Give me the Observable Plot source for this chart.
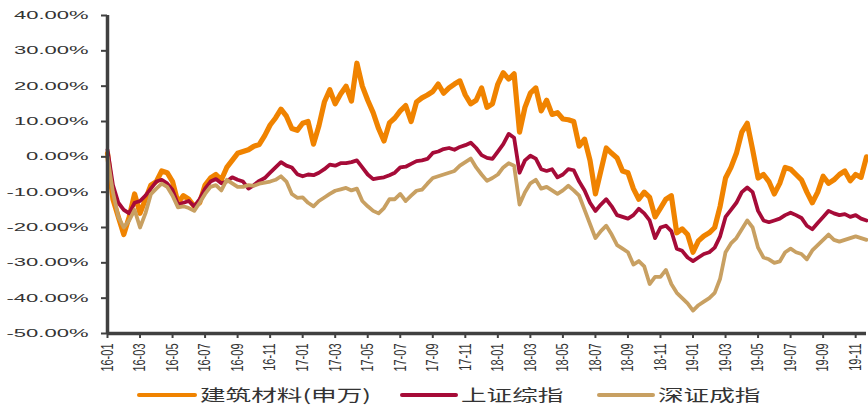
<!DOCTYPE html>
<html>
<head>
<meta charset="utf-8">
<script src="https://cdn.jsdelivr.net/npm/d3@7"></script>
<script src="https://cdn.jsdelivr.net/npm/@observablehq/plot@0.6"></script>
<style>
  html, body { margin: 0; padding: 0; background: #fff; }
  #wrap { width: 868px; height: 405px; position: relative; overflow: hidden; }
  #legend { position: relative; width: 868px; height: 30px; }
  .sw { position: absolute; top: 18px; height: 4px; border-radius: 2px; }
  .lt { position: absolute; top: 8px; font: 16px "Noto Sans CJK SC", "Liberation Sans", sans-serif;
        color: #333; line-height: 22px; transform: scaleX(1.6); transform-origin: left center; white-space: nowrap; }
</style>
</head>
<body>
<div id="wrap">
  <div id="chart"></div>
  <div id="legend"></div>
</div>
<script>
// Cumulative change since the first trading day of 2016 (%), sampled every third of a month.
const construction = [
  1, -12, -17, -22, -17, -10.5, -16, -12, -8, -7,
  -4, -4.5, -7, -13, -11, -12, -14, -13, -8, -6,
  -5, -6.5, -3, -1, 1, 1.5, 2, 3, 3.5, 6,
  9, 11, 13.5, 11.5, 8, 7.5, 9.5, 10, 3.6, 8.8,
  15.5, 19, 15, 17.8, 20, 15.8, 26.5, 20, 16, 12.5,
  8, 4.5, 9.6, 11, 13, 14.5, 10, 15.5, 16.7, 17.5,
  18.5, 20.6, 18, 19.5, 20.6, 21.5, 17.5, 15, 16, 19.5,
  14, 15, 20.6, 23.8, 22, 23.5, 7, 14, 18, 19.5,
  13, 16, 12, 12.5, 10.7, 10.5, 10, 3, 5, -1,
  -10.5, -4, 2.5, 1, -0.3, -4, -4.5, -9, -12, -10,
  -11.5, -17, -14.5, -12, -11, -21.5, -20.4, -22, -27, -23.8,
  -22.4, -21.5, -20, -14, -6, -3, 1, 7, 9.5, 2,
  -6, -5, -7, -10.5, -7.5, -3, -3.5, -5, -6.5, -10,
  -13, -10, -5.5, -7.5, -6.5, -5, -4, -6.8, -5, -5.8,
  0
];
const shanghai = [
  2, -8, -13, -15, -16, -13, -12.5, -11, -9, -7,
  -6.5, -7.5, -9.4, -13.5, -13, -12.5, -14, -12, -9, -7,
  -6.3, -7.5, -7, -5.8, -6.5, -7, -9, -8, -6.8, -6,
  -4.5, -3, -1.5, -2.5, -3, -4.9, -5.5, -5, -5.2, -4.5,
  -3.5, -2.2, -2.5, -1.8, -1.8, -1.5, -1, -3, -5, -6.3,
  -6, -5.8, -5.2, -4.5, -3, -2.8, -2, -1.2, -1, -0.6,
  1.1, 1.5, 2.2, 2.5, 2, 2.8, 3.3, 4, 2.5, 0.5,
  -0.3, -0.6, 1.5, 3.6, 6.5, 5.4, -4.5, -1, 0.3, -0.5,
  -3.5, -4, -3.5, -5.8, -5, -3.5, -3.8, -7, -9.5, -13,
  -15.3, -13.5, -12, -14, -16.5, -17, -17.5, -16.5, -14.7, -16,
  -18, -23, -20, -19.5, -21, -26, -26.6, -28.5, -29.5, -28.5,
  -27.5, -27, -25.7, -22.5, -17, -15, -13, -10, -8.7, -10,
  -15.3, -18, -18.5, -18, -17.5, -16.5, -15.8, -16.5, -17.3, -19.5,
  -20.5, -18.7, -17, -15.3, -16, -16.5, -16.2, -17, -16.5, -17.5,
  -18
];
const shenzhen = [
  0, -10, -17, -20, -18, -15, -20, -16, -10.6, -9,
  -7.6, -8.5, -11, -14.3, -14, -14.5, -15.3, -13, -10.5, -8.5,
  -8, -9.5, -6.5, -7.5, -8.5, -8.5, -8, -8.2, -7.6, -7.3,
  -7, -6.5, -5.5, -7, -10.5, -11.6, -11.5, -13, -14, -12.5,
  -11.5, -10.5, -9.6, -9.2, -8.8, -9.5, -9, -12.5, -14, -15.3,
  -16, -14.5, -12, -12, -10.5, -12.5, -11, -9.6, -9.3, -7.6,
  -6, -5.5, -5, -4.5, -4, -2.5, -1.5, -0.5, -3, -5,
  -6.8, -6, -5, -3, -1.8, -2.5, -13.5, -10, -7.5, -6.5,
  -9, -8.5, -9.5, -10.5, -9.5, -8.2, -9.5, -11, -15, -19,
  -23, -21, -19.5, -22, -25, -26, -27, -30.5, -29.5, -31,
  -36, -34, -34, -32, -36, -38.5, -40, -41.5, -43.5, -42,
  -41, -40, -38.5, -34.5, -27, -24.5, -23, -20.5, -18, -20,
  -25.7, -28.5, -29, -30, -29.6, -27, -26, -27, -27.5, -29,
  -26.5, -25, -23.5, -22, -23.5, -24, -23.5, -23, -22.5, -23,
  -23.5
];
// Months elapsed since 2016-01 for each sample
const months = construction.map((_, i) => i / 3);

const tickLabels = ["16-01","16-03","16-05","16-07","16-09","16-11",
  "17-01","17-03","17-05","17-07","17-09","17-11",
  "18-01","18-03","18-05","18-07","18-09","18-11",
  "19-01","19-03","19-05","19-07","19-09","19-11"];
const yTicks = [40, 30, 20, 10, 0, -10, -20, -30, -40, -50];

const seriesNames = ["建筑材料(申万)", "上证综指", "深证成指"];
const seriesColors = ["#F08300", "#A60B38", "#C8A062"];
const seriesWidths = [5.2, 3.8, 3.8];

const rows = months.map((m, i) => ({m, c: construction[i], s: shanghai[i], z: shenzhen[i]}));
const keys = ["c", "s", "z"];
const axisColor = "#404040";

const chart = Plot.plot({
  width: 868,
  height: 375,
  marginLeft: 107,
  marginRight: 2,
  marginTop: 15,
  marginBottom: 42,
  style: {fontFamily: "'Liberation Sans', Arial, sans-serif", fontSize: "11px", color: "#333", background: "#fff"},
  x: {domain: [0, months[months.length - 1]], label: null},
  y: {domain: [-50, 40], label: null},
  marks: [
    ...keys.map((k, j) => Plot.line(rows, {
      x: "m", y: k, stroke: seriesColors[j], strokeWidth: seriesWidths[j],
      strokeLinejoin: "round", strokeLinecap: "round"
    })),
    Plot.axisY({
      ticks: yTicks, tickFormat: d => d.toFixed(2) + "%", tickSize: 6, tickPadding: 13,
      stroke: axisColor, strokeWidth: 2, fill: "#333", label: null
    }),
    Plot.axisX({
      ticks: tickLabels.map((_, i) => i * 2), tickFormat: d => tickLabels[d / 2],
      tickSize: 5, tickPadding: 5, tickRotate: -90, stroke: axisColor, strokeWidth: 2,
      fill: "#333", label: null
    }),
    Plot.ruleX([0], {stroke: axisColor, strokeWidth: 3.5}),
    Plot.ruleY([-50], {stroke: axisColor, strokeWidth: 3.5})
  ]
});
document.getElementById("chart").appendChild(chart);

// Stretch the value labels horizontally; the anchor stays where Plot put it.
chart.querySelectorAll('[aria-label^="y-axis"] text').forEach(t => {
  const w = t.getComputedTextLength();
  if (w > 0) {
    t.setAttribute("textLength", (w * 2.0).toFixed(1));
    t.setAttribute("lengthAdjust", "spacingAndGlyphs");
  }
});

// Widen the rotated month labels across the page, about each label's own centre line.
chart.querySelectorAll('[aria-label^="x-axis"] text').forEach(t => {
  const parent = t.parentNode;
  const b = t.getBBox();
  const m = parent.getCTM().inverse().multiply(t.getCTM());
  const p = chart.createSVGPoint();
  p.x = b.x + b.width / 2; p.y = b.y + b.height / 2;
  const c = p.matrixTransform(m);
  const g = document.createElementNS("http://www.w3.org/2000/svg", "g");
  g.setAttribute("transform", `translate(${c.x},0) scale(1.45,1) translate(${-c.x},0)`);
  parent.insertBefore(g, t);
  g.appendChild(t);
});

// Legend row
const legend = document.getElementById("legend");
const swatchLeft = [137, 400, 597];
const swatchWidth = [60, 58, 58];
const textLeft = [200, 461, 658];
seriesNames.forEach((name, j) => {
  const sw = document.createElement("div");
  sw.className = "sw";
  sw.style.left = swatchLeft[j] + "px";
  sw.style.width = swatchWidth[j] + "px";
  sw.style.background = seriesColors[j];
  legend.appendChild(sw);
  const tx = document.createElement("div");
  tx.className = "lt";
  tx.style.left = textLeft[j] + "px";
  tx.textContent = name;
  legend.appendChild(tx);
});
</script>
</body>
</html>
